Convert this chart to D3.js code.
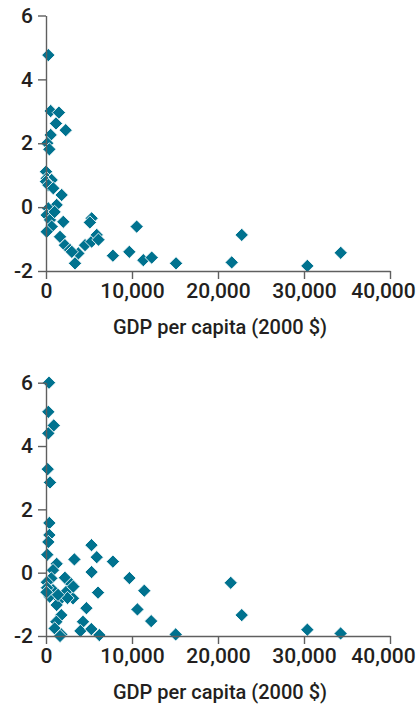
<!DOCTYPE html>
<html>
<head>
<meta charset="utf-8">
<script src="https://cdn.jsdelivr.net/npm/d3@7"></script>
<style>
  html, body { margin: 0; padding: 0; background: #fff; }
  svg { display: block; }
</style>
</head>
<body>
<svg id="chart" width="419" height="706"></svg>
<script>
// ---- data ----
const xTicks = [0, 10000, 20000, 30000, 40000];
const yTicks = [-2, 0, 2, 4, 6];
const xLabel = "GDP per capita (2000 $)";

// Top panel: GDP per capita (2000 $) and value
const topGdp = [270, 545, 1500, 1160, 2290, 545, 150, 390, 0, 80, 660, 0, 270, 850, 1820,
  1240, 270, 80, 465, 2010, 660, 80, 1630, 2200, 2790, 3760, 3370, 4540, 5310, 5900, 5310, 5100,
  7780, 9690, 10545, 11316, 12293, 15120, 21597, 22760, 30390, 34270, 6100, 3000, 1000];
const topValues = [4.76, 3.01, 2.96, 2.62, 2.41, 2.26, 2.0, 1.81, 1.11, 0.90, 0.85, 0.80, 0.69, 0.59, 0.38,
  0.07, -0.04, -0.25, -0.40, -0.46, -0.61, -0.77, -0.93, -1.19, -1.34, -1.45, -1.76, -1.19, -1.08, -0.87, -0.35, -0.48,
  -1.52, -1.40, -0.61, -1.66, -1.58, -1.76, -1.73, -0.87, -1.84, -1.43, -1.02, -1.40, -0.15];

// Bottom panel
const bottomGdp = [350, 270, 900, 270, 200, 465, 390, 390, 270, 150,
  1240, 815, 620, 2200, 2940, 3300, 5290, 5900, 7780, 5300, 6050, 9700, 11430, 10630, 12230, 15080,
  21480, 22760, 30390, 34260, 2360, 3140, 815, 430, 1590, 4700, 1780, 1200, 1010, 1780, 4300, 4000,
  5270, 6200, 100, 120, 2500, 1240, 3180, 60, 1400, 1630];
const bottomValues = [6.0, 5.08, 4.65, 4.40, 3.27, 2.85, 1.57, 1.19, 0.97, 0.57,
  0.28, 0.08, -0.18, -0.16, -0.36, 0.42, 0.87, 0.49, 0.35, 0.02, -0.63, -0.17, -0.57, -1.16, -1.53, -1.95,
  -0.32, -1.34, -1.80, -1.92, -0.60, -0.81, -0.55, -0.76, -0.86, -1.12, -1.34, -1.55, -1.76, -1.95, -1.55, -1.84,
  -1.78, -1.97, -0.30, -0.48, -0.80, -1.02, -0.44, -0.62, -0.70, -2.0];

// ---- drawing ----
const svg = d3.select("#chart");
const color = "#00728f";
const axisColor = "#5f5f5f";
const font = 'Roboto, "Liberation Sans", sans-serif';

const x = d3.scaleLinear().domain([0, 40000]).range([46, 390]);

const panels = [
  { gdp: topGdp, vals: topValues, yRange: [271, 15.5] },
  { gdp: bottomGdp, vals: bottomValues, yRange: [636, 382.7] }
];

const diamond = d3.symbol().type(d3.symbolSquare).size(88);

panels.forEach(p => {
  const y = d3.scaleLinear().domain([-2, 6]).range(p.yRange);
  const g = svg.append("g");

  // points
  const pts = p.gdp.map((v, i) => [v, p.vals[i]]);
  g.append("g").selectAll("path").data(pts).join("path")
    .attr("d", diamond)
    .attr("transform", d => `translate(${x(d[0])},${y(d[1])}) rotate(45)`)
    .attr("fill", color)
    .attr("stroke", "#fff")
    .attr("stroke-width", 0.8);

  // y axis
  const ya = g.append("g")
    .attr("transform", `translate(${x(0)},0)`)
    .call(d3.axisLeft(y).tickValues(yTicks).tickSize(8).tickSizeOuter(0).tickPadding(5)
      .tickFormat(d => String(d)));
  // x axis
  const xa = g.append("g")
    .attr("transform", `translate(0,${y(-2)})`)
    .call(d3.axisBottom(x).tickValues(xTicks).tickSize(8).tickSizeOuter(0).tickPadding(4)
      .tickFormat(d3.format(",")));

  [ya, xa].forEach(a => {
    a.select(".domain").attr("stroke", axisColor).attr("stroke-width", 1.4);
    a.selectAll(".tick line").attr("stroke", axisColor).attr("stroke-width", 1.4);
    a.selectAll(".tick text").attr("font-size", 21).attr("font-family", font)
      .attr("font-weight", 500).attr("fill", "#231f20");
  });
  // keep the last x label inside the figure, as in the reference
  xa.selectAll(".tick text").filter(d => d === 40000).attr("dx", -7);

  // x axis label
  g.append("text")
    .attr("x", (x(0) + x(40000)) / 2 + 2)
    .attr("y", y(-2) + 63)
    .attr("text-anchor", "middle")
    .attr("font-family", font)
    .attr("font-size", 20)
    .attr("font-weight", 500)
    .attr("fill", "#231f20")
    .text(xLabel);
});
</script>
</body>
</html>
